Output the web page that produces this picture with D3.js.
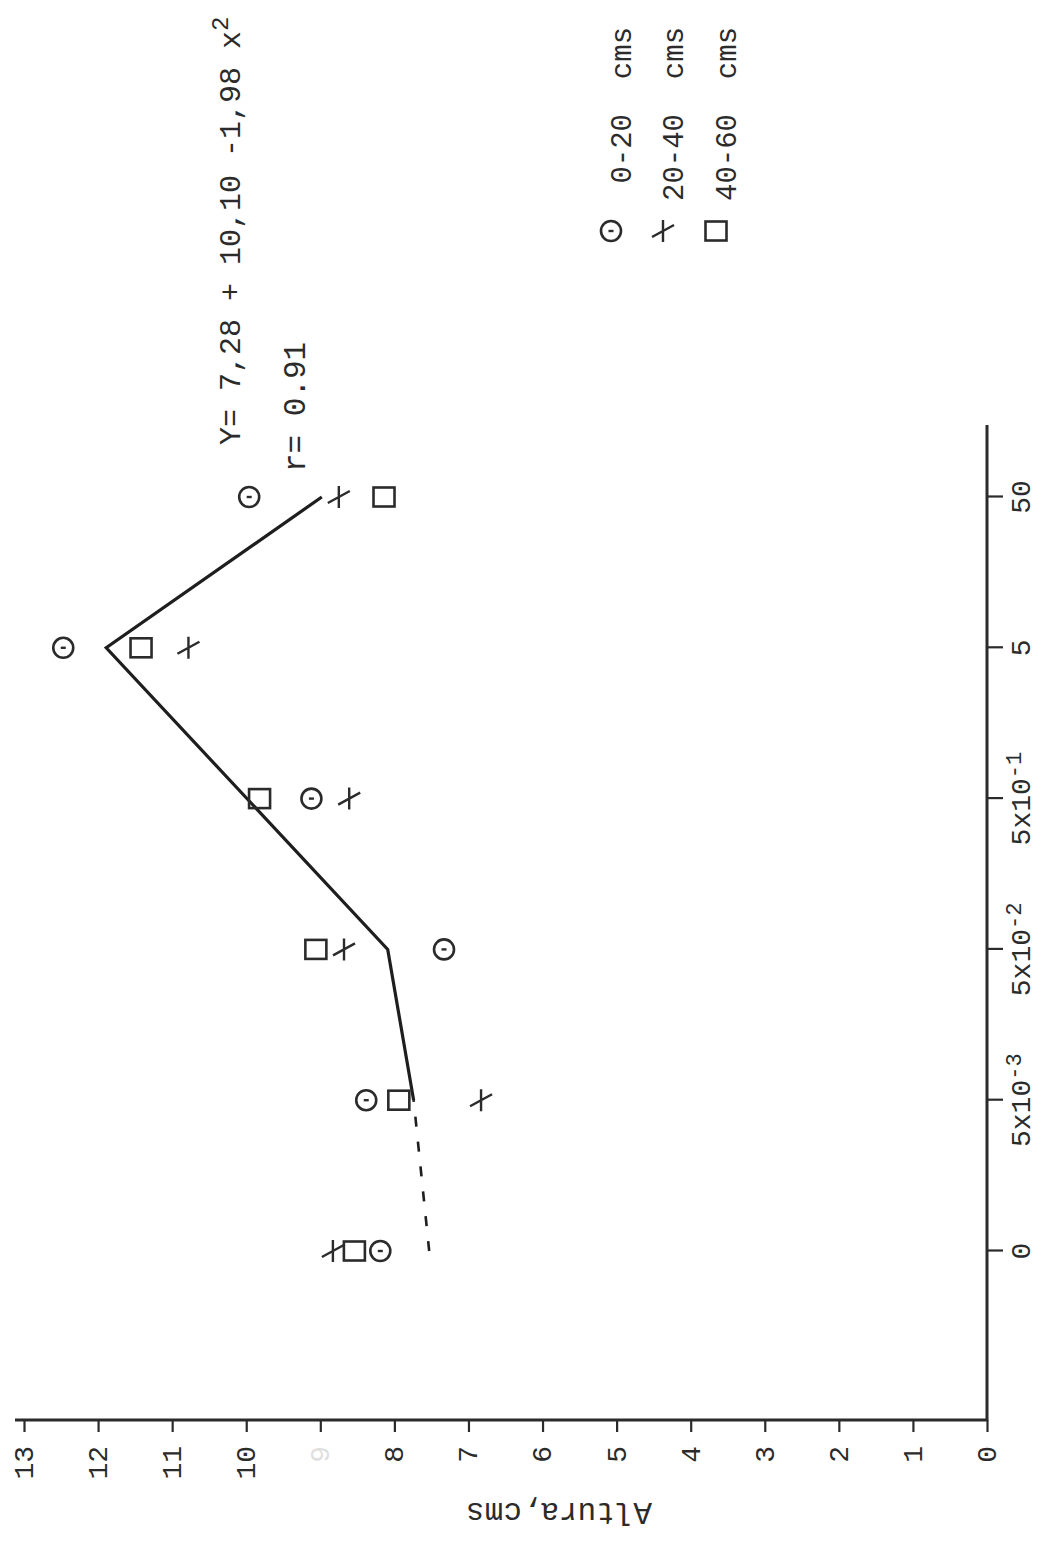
<!DOCTYPE html>
<html><head><meta charset="utf-8">
<script src="https://cdn.jsdelivr.net/npm/d3@7"></script>
<style>
html,body{margin:0;padding:0;background:#fff;}
text{font-family:"Liberation Mono","DejaVu Sans Mono",monospace;fill:#2b2b2b;white-space:pre;}
</style>
</head><body>
<svg id="c" width="1037" height="1543"></svg>
<script>
// ---- data ----
const categories = ["0", "5x10-3", "5x10-2", "5x10-1", "5", "50"];
const tickBase = ["0", "5x10", "5x10", "5x10", "5", "50"];
const tickExp = ["", "-3", "-2", "-1", "", ""];
const valueTicks = [0, 1, 2, 3, 4, 5, 6, 7, 8, 9, 10, 11, 12, 13];

const seriesNames = [" 0-20  cms", "20-40  cms", "40-60  cms"];
const serieCircle = [8.19, 8.38, 7.33, 9.12, 12.47, 9.96];   // 0-20 cms
const serieCross  = [8.83, 6.83, 8.68, 8.61, 10.78, 8.75];   // 20-40 cms
const serieSquare = [8.54, 7.94, 9.06, 9.82, 11.42, 8.14];   // 40-60 cms

const fitCats = ["5x10-3", "5x10-2", "5", "50"];
const fitVals = [7.74, 8.09, 11.89, 8.98];
const extCats = ["0", "5x10-3"];
const extVals = [7.53, 7.74];

const equationText = "Y= 7,28 + 10,10 -1,98 x";
const equationExp = "2";
const rText = "r= 0.91";
const yTitle = "Altura,cms";

// ---- drawing (chart drawn upright, then page rotated 90° CCW) ----
const W = 1543, H = 1037;
const svg = d3.select("#c");
const g = svg.append("g").attr("transform", `translate(0,${W}) rotate(-90)`);
const ink = "#2b2b2b";

const x = d3.scalePoint().domain(categories).range([292, 1046]);
const y = d3.scaleLinear().domain([0, 13]).range([987, 24]);

// axes lines
g.append("line").attr("x1", 123).attr("x2", 123).attr("y1", 15).attr("y2", 988)
  .attr("stroke", ink).attr("stroke-width", 3);
g.append("line").attr("x1", 122).attr("x2", 1118).attr("y1", 987).attr("y2", 987)
  .attr("stroke", ink).attr("stroke-width", 3);

// value axis
const yAxis = d3.axisLeft(y).tickValues(valueTicks).tickSize(12).tickSizeOuter(0).tickPadding(14);
const ya = g.append("g").attr("transform", "translate(123,0)").call(yAxis);
ya.select(".domain").remove();
ya.selectAll(".tick line").attr("stroke", ink).attr("stroke-width", 2.2);
ya.selectAll(".tick text").attr("font-size", 28).attr("dy", "0.3em")
  .style("font-family", '"Liberation Mono", monospace').attr("fill", ink)
  .attr("opacity", d => d === 9 ? 0.15 : 1);

// category axis
const xAxis = d3.axisBottom(x).tickSize(16).tickSizeOuter(0).tickFormat(() => "");
const xa = g.append("g").attr("transform", "translate(0,987)").call(xAxis);
xa.select(".domain").remove();
xa.selectAll(".tick line").attr("stroke", ink).attr("stroke-width", 2.2);
xa.selectAll(".tick text").remove();
categories.forEach((c, i) => {
  const t = g.append("text").attr("x", x(c)).attr("y", 1030).attr("text-anchor", "middle")
    .attr("font-size", 28).attr("fill", ink);
  t.append("tspan").text(tickBase[i]);
  if (tickExp[i]) t.append("tspan").attr("dy", -9).attr("font-size", 22).text(tickExp[i]);
});

// axis title
g.append("text").attr("transform", "translate(40,559) rotate(-90)")
  .attr("text-anchor", "middle").attr("font-size", 31).attr("fill", ink).text(yTitle);

// fit line
const line = d3.line().x(d => x(d[0])).y(d => y(d[1]));
g.append("path").datum(fitCats.map((c, i) => [c, fitVals[i]])).attr("d", line)
  .attr("fill", "none").attr("stroke", "#1e1e1e").attr("stroke-width", 3.2);
g.append("path").datum(extCats.map((c, i) => [c, extVals[i]])).attr("d", line)
  .attr("fill", "none").attr("stroke", "#1e1e1e").attr("stroke-width", 2.6)
  .attr("stroke-dasharray", "10 15");

// markers
function drawCircle(sel) {
  sel.append("circle").attr("r", 10).attr("fill", "none").attr("stroke", ink).attr("stroke-width", 2.6);
  sel.append("line").attr("x1", 0).attr("x2", 0).attr("y1", -2.5).attr("y2", 2.5)
    .attr("stroke", ink).attr("stroke-width", 2.4);
}
function drawCross(sel) {
  sel.append("path").attr("d", "M-11,0L11,0M-6,-11L6,11")
    .attr("fill", "none").attr("stroke", ink).attr("stroke-width", 2.4);
}
function drawSquare(sel) {
  sel.append("rect").attr("x", -9.5).attr("y", -10.5).attr("width", 19).attr("height", 21)
    .attr("fill", "none").attr("stroke", ink).attr("stroke-width", 2.6);
}
const seriesDefs = [
  {vals: serieCircle, draw: drawCircle},
  {vals: serieCross, draw: drawCross},
  {vals: serieSquare, draw: drawSquare}
];
seriesDefs.forEach(s => {
  g.append("g").selectAll("g").data(categories).join("g")
    .attr("transform", (c, i) => `translate(${x(c)},${y(s.vals[i])})`)
    .each(function () { s.draw(d3.select(this)); });
});

// equation and r
const eq = g.append("text").attr("x", 1098).attr("y", 240).attr("font-size", 30).attr("fill", ink);
eq.append("tspan").text(equationText);
eq.append("tspan").attr("dy", -12).attr("font-size", 24).text(equationExp);
g.append("text").attr("x", 1071).attr("y", 305).attr("font-size", 31).attr("fill", ink).text(rText);

// legend
const legendBase = [631, 683, 736];
seriesNames.forEach((name, i) => {
  const m = g.append("g").attr("transform", `translate(1312,${legendBase[i] - 20})`);
  seriesDefs[i].draw(m);
  g.append("text").attr("x", 1342).attr("y", legendBase[i]).attr("font-size", 29)
    .attr("fill", ink).text(name);
});
</script>
</body></html>
